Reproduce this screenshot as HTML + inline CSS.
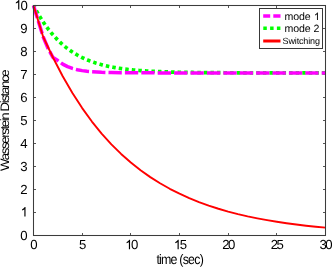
<!DOCTYPE html>
<html><head><meta charset="utf-8"><style>
html,body{margin:0;padding:0;background:#fff;}
body{width:332px;height:267px;overflow:hidden;}
svg{display:block;will-change:transform;}
text{font-family:"Liberation Sans",sans-serif;fill:#000;text-rendering:geometricPrecision;}
</style></head><body>
<svg width="332" height="267" viewBox="0 0 332 267">
<rect width="332" height="267" fill="#fff"/>
<g stroke="#555" stroke-width="1" fill="none">
<path d="M82.5,235.0 v-2 M82.5,6.0 v2"/><path d="M130.5,235.0 v-2 M130.5,6.0 v2"/><path d="M179.5,235.0 v-2 M179.5,6.0 v2"/><path d="M228.5,235.0 v-2 M228.5,6.0 v2"/><path d="M276.5,235.0 v-2 M276.5,6.0 v2"/><path d="M34.0,212.5 h2 M325.0,212.5 h-2"/><path d="M34.0,189.5 h2 M325.0,189.5 h-2"/><path d="M34.0,166.5 h2 M325.0,166.5 h-2"/><path d="M34.0,143.5 h2 M325.0,143.5 h-2"/><path d="M34.0,120.5 h2 M325.0,120.5 h-2"/><path d="M34.0,97.5 h2 M325.0,97.5 h-2"/><path d="M34.0,74.5 h2 M325.0,74.5 h-2"/><path d="M34.0,51.5 h2 M325.0,51.5 h-2"/><path d="M34.0,28.5 h2 M325.0,28.5 h-2"/>
</g>
<g fill="none" stroke-linejoin="round">
<path d="M33.50,5.50 L33.99,6.43 L34.47,7.35 L34.96,8.25 L35.45,9.15 L35.93,10.03 L36.42,10.91 L36.91,11.77 L37.39,12.62 L37.88,13.46 L38.37,14.29 L38.85,15.11 L39.34,15.92 L39.83,16.72 L40.31,17.51 L40.80,18.29 L41.29,19.06 L41.77,19.83 L42.26,20.58 L42.75,21.32 L43.23,22.05 L43.72,22.77 L44.21,23.49 L44.69,24.19 L45.18,24.89 L45.67,25.57 L46.15,26.25 L46.64,26.92 L47.13,27.58 L47.61,28.23 L48.10,28.87 L48.59,29.51 L49.07,30.13 L49.56,30.75 L50.05,31.36 L50.53,31.96 L51.02,32.56 L51.51,33.14 L51.99,33.72 L52.48,34.29 L52.97,34.86 L53.45,35.41 L53.94,35.96 L54.43,36.50 L54.91,37.03 L55.40,37.56 L55.89,38.08 L56.37,38.59 L56.86,39.10 L57.35,39.59 L57.83,40.08 L58.32,40.57 L58.81,41.05 L59.29,41.52 L59.78,41.98 L60.27,42.44 L60.75,42.89 L61.24,43.34 L61.73,43.78 L62.21,44.21 L62.70,44.64 L63.19,45.06 L63.67,45.48 L64.16,45.89 L64.65,46.29 L65.13,46.69 L65.62,47.09 L66.11,47.47 L66.59,47.86 L67.08,48.23 L67.57,48.60 L68.05,48.97 L68.54,49.33 L69.03,49.69 L69.51,50.04 L70.00,50.38 L70.49,50.72 L70.97,51.06 L71.46,51.39 L71.95,51.72 L72.43,52.04 L72.92,52.35 L73.41,52.67 L73.89,52.97 L74.38,53.28 L74.87,53.58 L75.35,53.87 L75.84,54.16 L76.33,54.45 L76.81,54.73 L77.30,55.01 L77.79,55.28 L78.27,55.55 L78.76,55.82 L79.25,56.08 L79.73,56.34 L80.22,56.59 L80.71,56.84 L81.19,57.09 L81.68,57.33 L82.17,57.57 L82.65,57.81 L83.14,58.04 L83.63,58.27 L84.11,58.50 L84.60,58.72 L85.09,58.94 L85.57,59.15 L86.06,59.37 L86.55,59.57 L87.03,59.78 L87.52,59.98 L88.01,60.18 L88.49,60.38 L88.98,60.58 L89.47,60.77 L89.95,60.96 L90.44,61.14 L90.93,61.32 L91.41,61.50 L91.90,61.68 L92.39,61.86 L92.87,62.03 L93.36,62.20 L93.85,62.36 L94.33,62.53 L94.82,62.69 L95.31,62.85 L95.79,63.01 L96.28,63.16 L96.77,63.31 L97.25,63.46 L97.74,63.61 L98.23,63.75 L98.71,63.90 L99.20,64.04 L99.69,64.18 L100.17,64.31 L100.66,64.45 L101.15,64.58 L101.63,64.71 L102.12,64.84 L102.61,64.97 L103.09,65.09 L103.58,65.21 L104.07,65.33 L104.55,65.45 L105.04,65.57 L105.53,65.68 L106.01,65.80 L106.50,65.91 L106.99,66.02 L107.47,66.13 L107.96,66.23 L108.45,66.34 L108.93,66.44 L109.42,66.54 L109.91,66.64 L110.39,66.74 L110.88,66.84 L111.37,66.93 L111.85,67.03 L112.34,67.12 L112.83,67.21 L113.31,67.30 L113.80,67.39 L114.29,67.48 L114.77,67.56 L115.26,67.65 L115.75,67.73 L116.23,67.81 L116.72,67.89 L117.21,67.97 L117.69,68.05 L118.18,68.12 L118.67,68.20 L119.15,68.27 L119.64,68.35 L120.13,68.42 L120.61,68.49 L121.10,68.56 L121.59,68.63 L122.07,68.69 L122.56,68.76 L123.05,68.83 L123.53,68.89 L124.02,68.95 L124.51,69.02 L124.99,69.08 L125.48,69.14 L125.97,69.20 L126.45,69.26 L126.94,69.31 L127.43,69.37 L127.91,69.43 L128.40,69.48 L128.89,69.53 L129.37,69.59 L129.86,69.64 L130.35,69.69 L130.83,69.74 L131.32,69.79 L131.81,69.84 L132.29,69.89 L132.78,69.94 L133.27,69.98 L133.75,70.03 L134.24,70.08 L134.73,70.12 L135.21,70.16 L135.70,70.21 L136.19,70.25 L136.67,70.29 L137.16,70.33 L137.65,70.37 L138.13,70.41 L138.62,70.45 L139.11,70.49 L139.59,70.53 L140.08,70.57 L140.57,70.60 L141.05,70.64 L141.54,70.67 L142.03,70.71 L142.51,70.74 L143.00,70.78 L143.49,70.81 L143.97,70.84 L144.46,70.88 L144.95,70.91 L145.43,70.94 L145.92,70.97 L146.41,71.00 L146.89,71.03 L147.38,71.06 L147.87,71.09 L148.35,71.12 L148.84,71.15 L149.33,71.17 L149.81,71.20 L150.30,71.23 L150.79,71.25 L151.27,71.28 L151.76,71.31 L152.25,71.33 L152.73,71.35 L153.22,71.38 L153.71,71.40 L154.19,71.43 L154.68,71.45 L155.17,71.47 L155.65,71.49 L156.14,71.52 L156.63,71.54 L157.11,71.56 L157.60,71.58 L158.09,71.60 L158.57,71.62 L159.06,71.64 L159.55,71.66 L160.03,71.68 L160.52,71.70 L161.01,71.72 L161.49,71.74 L161.98,71.75 L162.47,71.77 L162.95,71.79 L163.44,71.81 L163.93,71.82 L164.41,71.84 L164.90,71.86 L165.39,71.87 L165.87,71.89 L166.36,71.91 L166.85,71.92 L167.33,71.94 L167.82,71.95 L168.31,71.97 L168.79,71.98 L169.28,71.99 L169.77,72.01 L170.25,72.02 L170.74,72.04 L171.23,72.05 L171.71,72.06 L172.20,72.08 L172.69,72.09 L173.17,72.10 L173.66,72.11 L174.15,72.12 L174.63,72.14 L175.12,72.15 L175.61,72.16 L176.09,72.17 L176.58,72.18 L177.07,72.19 L177.55,72.20 L178.04,72.21 L178.53,72.23 L179.01,72.24 L179.50,72.25 L179.99,72.26 L180.47,72.27 L180.96,72.28 L181.45,72.28 L181.93,72.29 L182.42,72.30 L182.91,72.31 L183.39,72.32 L183.88,72.33 L184.37,72.34 L184.85,72.35 L185.34,72.36 L185.83,72.36 L186.31,72.37 L186.80,72.38 L187.29,72.39 L187.77,72.40 L188.26,72.40 L188.75,72.41 L189.23,72.42 L189.72,72.42 L190.21,72.43 L190.69,72.44 L191.18,72.45 L191.67,72.45 L192.15,72.46 L192.64,72.47 L193.13,72.47 L193.61,72.48 L194.10,72.48 L194.59,72.49 L195.07,72.50 L195.56,72.50 L196.05,72.51 L196.53,72.51 L197.02,72.52 L197.51,72.53 L197.99,72.53 L198.48,72.54 L198.97,72.54 L199.45,72.55 L199.94,72.55 L200.43,72.56 L200.91,72.56 L201.40,72.57 L201.89,72.57 L202.37,72.58 L202.86,72.58 L203.35,72.59 L203.83,72.59 L204.32,72.59 L204.81,72.60 L205.29,72.60 L205.78,72.61 L206.27,72.61 L206.75,72.62 L207.24,72.62 L207.73,72.62 L208.21,72.63 L208.70,72.63 L209.19,72.64 L209.67,72.64 L210.16,72.64 L210.65,72.65 L211.13,72.65 L211.62,72.65 L212.11,72.66 L212.59,72.66 L213.08,72.66 L213.57,72.67 L214.05,72.67 L214.54,72.67 L215.03,72.68 L215.51,72.68 L216.00,72.68 L216.49,72.68 L216.97,72.69 L217.46,72.69 L217.95,72.69 L218.43,72.70 L218.92,72.70 L219.41,72.70 L219.89,72.70 L220.38,72.71 L220.87,72.71 L221.35,72.71 L221.84,72.71 L222.33,72.72 L222.81,72.72 L223.30,72.72 L223.79,72.72 L224.27,72.73 L224.76,72.73 L225.25,72.73 L225.73,72.73 L226.22,72.74 L226.71,72.74 L227.19,72.74 L227.68,72.74 L228.17,72.74 L228.65,72.75 L229.14,72.75 L229.63,72.75 L230.11,72.75 L230.60,72.75 L231.09,72.75 L231.57,72.76 L232.06,72.76 L232.55,72.76 L233.03,72.76 L233.52,72.76 L234.01,72.76 L234.49,72.77 L234.98,72.77 L235.47,72.77 L235.95,72.77 L236.44,72.77 L236.93,72.77 L237.41,72.78 L237.90,72.78 L238.39,72.78 L238.87,72.78 L239.36,72.78 L239.85,72.78 L240.33,72.78 L240.82,72.79 L241.31,72.79 L241.79,72.79 L242.28,72.79 L242.77,72.79 L243.25,72.79 L243.74,72.79 L244.23,72.79 L244.71,72.80 L245.20,72.80 L245.69,72.80 L246.17,72.80 L246.66,72.80 L247.15,72.80 L247.63,72.80 L248.12,72.80 L248.61,72.80 L249.09,72.80 L249.58,72.81 L250.07,72.81 L250.55,72.81 L251.04,72.81 L251.53,72.81 L252.01,72.81 L252.50,72.81 L252.99,72.81 L253.47,72.81 L253.96,72.81 L254.45,72.81 L254.93,72.82 L255.42,72.82 L255.91,72.82 L256.39,72.82 L256.88,72.82 L257.37,72.82 L257.85,72.82 L258.34,72.82 L258.83,72.82 L259.31,72.82 L259.80,72.82 L260.29,72.82 L260.77,72.82 L261.26,72.82 L261.75,72.83 L262.23,72.83 L262.72,72.83 L263.21,72.83 L263.69,72.83 L264.18,72.83 L264.67,72.83 L265.15,72.83 L265.64,72.83 L266.13,72.83 L266.61,72.83 L267.10,72.83 L267.59,72.83 L268.07,72.83 L268.56,72.83 L269.05,72.83 L269.53,72.83 L270.02,72.84 L270.51,72.84 L270.99,72.84 L271.48,72.84 L271.97,72.84 L272.45,72.84 L272.94,72.84 L273.43,72.84 L273.91,72.84 L274.40,72.84 L274.89,72.84 L275.37,72.84 L275.86,72.84 L276.35,72.84 L276.83,72.84 L277.32,72.84 L277.81,72.84 L278.29,72.84 L278.78,72.84 L279.27,72.84 L279.75,72.84 L280.24,72.84 L280.73,72.84 L281.21,72.84 L281.70,72.84 L282.19,72.85 L282.67,72.85 L283.16,72.85 L283.65,72.85 L284.13,72.85 L284.62,72.85 L285.11,72.85 L285.59,72.85 L286.08,72.85 L286.57,72.85 L287.05,72.85 L287.54,72.85 L288.03,72.85 L288.51,72.85 L289.00,72.85 L289.49,72.85 L289.97,72.85 L290.46,72.85 L290.95,72.85 L291.43,72.85 L291.92,72.85 L292.41,72.85 L292.89,72.85 L293.38,72.85 L293.87,72.85 L294.35,72.85 L294.84,72.85 L295.33,72.85 L295.81,72.85 L296.30,72.85 L296.79,72.85 L297.27,72.85 L297.76,72.85 L298.25,72.85 L298.73,72.85 L299.22,72.85 L299.71,72.85 L300.19,72.85 L300.68,72.85 L301.17,72.85 L301.65,72.85 L302.14,72.86 L302.63,72.86 L303.11,72.86 L303.60,72.86 L304.09,72.86 L304.57,72.86 L305.06,72.86 L305.55,72.86 L306.03,72.86 L306.52,72.86 L307.01,72.86 L307.49,72.86 L307.98,72.86 L308.47,72.86 L308.95,72.86 L309.44,72.86 L309.93,72.86 L310.41,72.86 L310.90,72.86 L311.39,72.86 L311.87,72.86 L312.36,72.86 L312.85,72.86 L313.33,72.86 L313.82,72.86 L314.31,72.86 L314.79,72.86 L315.28,72.86 L315.77,72.86 L316.25,72.86 L316.74,72.86 L317.23,72.86 L317.71,72.86 L318.20,72.86 L318.69,72.86 L319.17,72.86 L319.66,72.86 L320.15,72.86 L320.63,72.86 L321.12,72.86 L321.61,72.86 L322.09,72.86 L322.58,72.86 L323.07,72.86 L323.55,72.86 L324.04,72.86 L324.53,72.86 L325.01,72.86 L325.50,72.86" stroke="#00ff00" stroke-width="3.7" stroke-dasharray="3.5 3.06" stroke-dashoffset="0.72"/>
<path d="M33.50,5.50 L43.23,37.01 L48.10,48.51 L52.97,57.48 L57.83,60.58 L62.70,64.13 L67.57,66.65 L72.43,68.45 L77.30,69.73 L82.17,70.64 L87.03,71.29 L91.90,71.75 L101.63,72.31 L111.37,72.60 L121.10,72.74 L130.83,72.81 L140.57,72.85 L150.30,72.87 L160.03,72.88 L169.77,72.89 L179.50,72.89 L189.23,72.89 L198.97,72.89 L208.70,72.89 L218.43,72.89 L228.17,72.89 L237.90,72.89 L247.63,72.89 L257.37,72.89 L267.10,72.89 L276.83,72.89 L286.57,72.89 L296.30,72.89 L306.03,72.89 L315.77,72.89 L325.50,72.89" stroke="#ff00ff" stroke-width="3.5" stroke-dasharray="13.3 3.1" stroke-dashoffset="0.26"/>
<path d="M33.50,5.50 L43.23,37.01 L52.97,57.48 L62.70,76.26 L72.43,93.06 L82.17,108.09 L91.90,121.53 L101.63,133.56 L111.37,144.31 L121.10,153.94 L130.83,162.54 L140.57,170.24 L150.30,177.12 L160.03,183.28 L169.77,188.79 L179.50,193.72 L189.23,198.13 L198.97,202.07 L208.70,205.60 L218.43,208.75 L228.17,211.58 L237.90,214.10 L247.63,216.36 L257.37,218.38 L267.10,220.18 L276.83,221.80 L286.57,223.25 L296.30,224.54 L306.03,225.69 L315.77,226.73 L325.50,227.65" stroke="#ff0000" stroke-width="1.9"/>
</g>
<g stroke="#3c3c3c" stroke-width="1.05" fill="none">
<rect x="33.5" y="5.5" width="292.0" height="230.0"/>
</g>
<g font-size="13.2px" letter-spacing="-1.6">
<text x="26.1" y="239.6" text-anchor="end">0</text><path d="M763 0H583V1147Q518 1085 412.5 1023T223 930V1104Q374 1175 487 1276T647 1472H763Z" transform="translate(20.60,216.60) scale(0.00645,-0.00645)" fill="#000"/><text x="26.1" y="193.6" text-anchor="end">2</text><text x="26.1" y="170.6" text-anchor="end">3</text><text x="26.1" y="147.6" text-anchor="end">4</text><text x="26.1" y="124.6" text-anchor="end">5</text><text x="26.1" y="101.6" text-anchor="end">6</text><text x="26.1" y="78.6" text-anchor="end">7</text><text x="26.1" y="55.6" text-anchor="end">8</text><text x="26.1" y="32.6" text-anchor="end">9</text><path d="M763 0H583V1147Q518 1085 412.5 1023T223 930V1104Q374 1175 487 1276T647 1472H763Z" transform="translate(14.40,9.60) scale(0.00645,-0.00645)" fill="#000"/><text x="20.5" y="9.6">0</text>
<text x="33.1" y="249.3" text-anchor="middle">0</text><text x="81.8" y="249.3" text-anchor="middle">5</text><path d="M763 0H583V1147Q518 1085 412.5 1023T223 930V1104Q374 1175 487 1276T647 1472H763Z" transform="translate(125.13,249.30) scale(0.00645,-0.00645)" fill="#000"/><text x="131.03" y="249.3">0</text><path d="M763 0H583V1147Q518 1085 412.5 1023T223 930V1104Q374 1175 487 1276T647 1472H763Z" transform="translate(173.80,249.30) scale(0.00645,-0.00645)" fill="#000"/><text x="179.70" y="249.3">5</text><text x="228.0" y="249.3" text-anchor="middle">20</text><text x="276.6" y="249.3" text-anchor="middle">25</text><text x="325.3" y="249.3" text-anchor="middle">30</text>
</g>
<text transform="translate(179.7,263.7) scale(0.9,1)" font-size="13.8px" text-anchor="middle" letter-spacing="-0.88">time (sec)</text>
<text transform="translate(9.2,170.9) rotate(-90) scale(1,0.93)" font-size="13.2px" text-anchor="start" letter-spacing="-1.35">Wasserstein Distance</text>
<g>
<rect x="259.5" y="8.5" width="63" height="40" fill="#fff" stroke="#383838" stroke-width="1"/>
<path d="M263.2,16 h7 M273.3,16 h7.2" stroke="#ff00ff" stroke-width="3.5" fill="none"/>
<path d="M263.3,28.3 h3.5 M270.1,28.3 h3.5 M276.9,28.3 h3.5" stroke="#00ff00" stroke-width="3.6" fill="none"/>
<path d="M263.2,41 h17.3" stroke="#ff0000" stroke-width="3" fill="none"/>
<text x="284.4" y="20.1" font-size="10.6px" letter-spacing="-0.08">mode</text><path d="M763 0H583V1147Q518 1085 412.5 1023T223 930V1104Q374 1175 487 1276T647 1472H763Z" transform="translate(314.00,20.10) scale(0.00508,-0.00508)" fill="#000"/>
<text x="284.4" y="32.3" font-size="10.6px" letter-spacing="-0.08">mode 2</text>
<text x="282.6" y="43.5" font-size="9px" letter-spacing="-0.15">Switching</text>
</g>
</svg>
</body></html>
